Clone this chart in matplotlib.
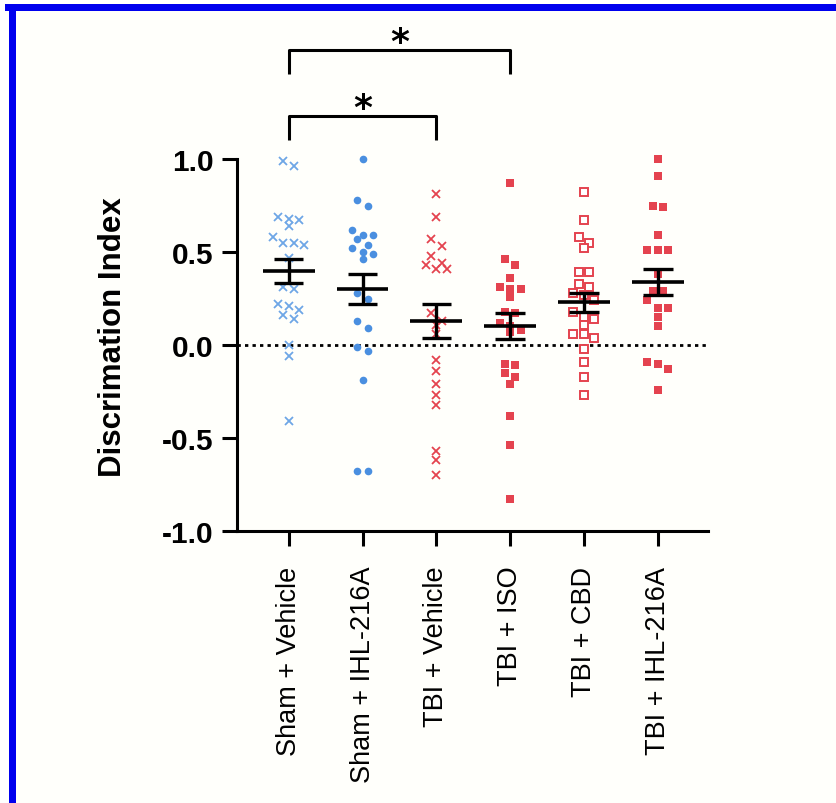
import numpy as np
import matplotlib
matplotlib.use('Agg')
import matplotlib.pyplot as plt
from matplotlib.patches import Rectangle

plt.rcParams['font.family'] = ['Liberation Sans', 'DejaVu Sans']
plt.rcParams['axes.unicode_minus'] = False

# ---------- data ----------
groups = ["Sham + Vehicle", "Sham + IHL-216A", "TBI + Vehicle",
          "TBI + ISO", "TBI + CBD", "TBI + IHL-216A"]

sham_vehicle = [0.99, 0.96, 0.69, 0.68, 0.67, 0.64, 0.58, 0.55, 0.55, 0.54, 0.47,
                0.31, 0.30, 0.22, 0.21, 0.19, 0.16, 0.14, 0.00, -0.06, -0.41]
sham_ihl = [1.00, 0.78, 0.75, 0.62, 0.59, 0.59, 0.57, 0.54, 0.52, 0.50, 0.49, 0.46,
            0.28, 0.25, 0.13, 0.09, -0.01, -0.03, -0.19, -0.68, -0.68]
tbi_vehicle = [0.81, 0.69, 0.57, 0.53, 0.48, 0.44, 0.43, 0.41, 0.41, 0.17, 0.13,
               0.11, 0.06, -0.08, -0.14, -0.21, -0.27, -0.32, -0.57, -0.62, -0.70]
tbi_iso = [0.87, 0.46, 0.43, 0.36, 0.31, 0.30, 0.30, 0.26, 0.18, 0.17, 0.12, 0.10,
           0.08, 0.07, -0.10, -0.11, -0.15, -0.17, -0.21, -0.38, -0.54, -0.83]
tbi_cbd = [0.82, 0.67, 0.58, 0.55, 0.52, 0.39, 0.39, 0.33, 0.31, 0.28, 0.27, 0.24,
           0.18, 0.15, 0.14, 0.11, 0.06, 0.06, 0.04, -0.02, -0.09, -0.17, -0.27]
tbi_ihl = [1.00, 0.91, 0.75, 0.74, 0.59, 0.51, 0.51, 0.51, 0.38, 0.29, 0.29, 0.24,
           0.20, 0.20, 0.15, 0.10, -0.09, -0.10, -0.13, -0.24]

means = [0.40, 0.30, 0.13, 0.10, 0.23, 0.34]
sems = [0.065, 0.08, 0.09, 0.07, 0.05, 0.07]

# significance brackets: (group a, group b, label)
sig_pairs = [(0, 3, "*"), (0, 2, "*")]

# ---------- styles ----------
blue_x = '#6ea6e6'
blue_dot = '#4a8fe0'
red = '#e4434f'
styles = [
    dict(marker='x', color=blue_x, ms=6, mew=1.3, ls='none'),
    dict(marker='o', color=blue_dot, ms=5.5, mew=0, ls='none'),
    dict(marker='x', color=red, ms=6, mew=1.3, ls='none'),
    dict(marker='s', color=red, ms=5.5, mew=0, ls='none'),
    dict(marker='s', mfc='white', mec=red, ms=6, mew=1.4, ls='none'),
    dict(marker='s', color=red, ms=5.8, mew=0, ls='none'),
]


def row_offsets(vals, step=0.142, min_dy=0.048):
    # Prism-like layout: points close in value share a row, centred on the group
    vals = np.asarray(vals)
    order = np.argsort(-vals)
    offs = np.zeros(len(vals))
    rows, cur = [], [order[0]]
    for i in order[1:]:
        if vals[cur[0]] - vals[i] < min_dy:
            cur.append(i)
        else:
            rows.append(cur)
            cur = [i]
    rows.append(cur)
    for r in rows:
        n = len(r)
        for k, i in enumerate(r):
            offs[i] = (k - (n - 1) / 2) * step
    return offs


fig = plt.figure(figsize=(8.37, 8.04), dpi=100)
fig.patch.set_facecolor('white')
# cream panel + blue frame (top + left)
fig.patches.append(Rectangle((9 / 837, 0), (837 - 9) / 837, (804 - 5) / 804,
                             transform=fig.transFigure, facecolor='#fffffb',
                             edgecolor='none', zorder=-10))
fig.patches.append(Rectangle((5 / 837, 1 - 12 / 804), 832 / 837, 7 / 804,
                             transform=fig.transFigure, facecolor='#0000ee',
                             edgecolor='none', zorder=-5))
fig.patches.append(Rectangle((9 / 837, 0), 7 / 837, 1 - 5 / 804,
                             transform=fig.transFigure, facecolor='#0000ee',
                             edgecolor='none', zorder=-5))

ax = fig.add_axes([237 / 837, 272 / 804, 471 / 837, 372 / 804])
ax.set_zorder(5)
ax.set_facecolor('none')

data = [sham_vehicle, sham_ihl, tbi_vehicle, tbi_iso, tbi_cbd, tbi_ihl]
for i, vals in enumerate(data):
    x = i + row_offsets(vals)
    ax.plot(x, vals, zorder=3, clip_on=False, **styles[i])

# mean +/- SEM
xs = np.arange(len(groups))
ax.hlines(means, xs - 0.35, xs + 0.35, color='black', lw=2.6, zorder=5)
ax.vlines(xs, np.array(means) - sems, np.array(means) + sems, color='black', lw=2.4, zorder=5)
ax.hlines(np.array(means) + sems, xs - 0.2, xs + 0.2, color='black', lw=2.4, zorder=5)
ax.hlines(np.array(means) - sems, xs - 0.2, xs + 0.2, color='black', lw=2.4, zorder=5)

ax.axhline(0, color='black', lw=2, ls=(0, (1.2, 1.5)), zorder=2)

# brackets
levels = [1.586, 1.231]
for (a, b, lab), lv in zip(sig_pairs, levels):
    ax.plot([a, a, b, b], [lv - 0.13, lv, lv, lv - 0.13], color='black', lw=2.2,
            clip_on=False, solid_capstyle='butt')
    ax.text((a + b) / 2, lv - 0.01, lab, ha='center', va='baseline', fontsize=26,
            fontweight='bold', family='DejaVu Sans', clip_on=False)

ax.set_xlim(-0.70, 5.68)
ax.set_ylim(-1.0, 1.0)
ax.set_yticks([-1.0, -0.5, 0.0, 0.5, 1.0])
ax.set_yticklabels([f"{v:.1f}" for v in [-1.0, -0.5, 0.0, 0.5, 1.0]],
                   fontsize=21.5, fontweight='bold')
ax.set_xticks(xs)
ax.set_xticklabels(groups, rotation=90, fontsize=19.5, va='top', ha='center')

for s in ['top', 'right']:
    ax.spines[s].set_visible(False)
for s in ['left', 'bottom']:
    ax.spines[s].set_linewidth(2.2)
ax.tick_params(axis='y', length=11, width=2.2, pad=6)
ax.tick_params(axis='x', length=11, width=2.2, pad=14)

ax.set_ylabel("Discrimation Index", fontsize=22.5, fontweight='bold')
ax.yaxis.set_label_coords(-0.232, 0.525)

fig.savefig("out.png", dpi=100, facecolor=fig.get_facecolor())
